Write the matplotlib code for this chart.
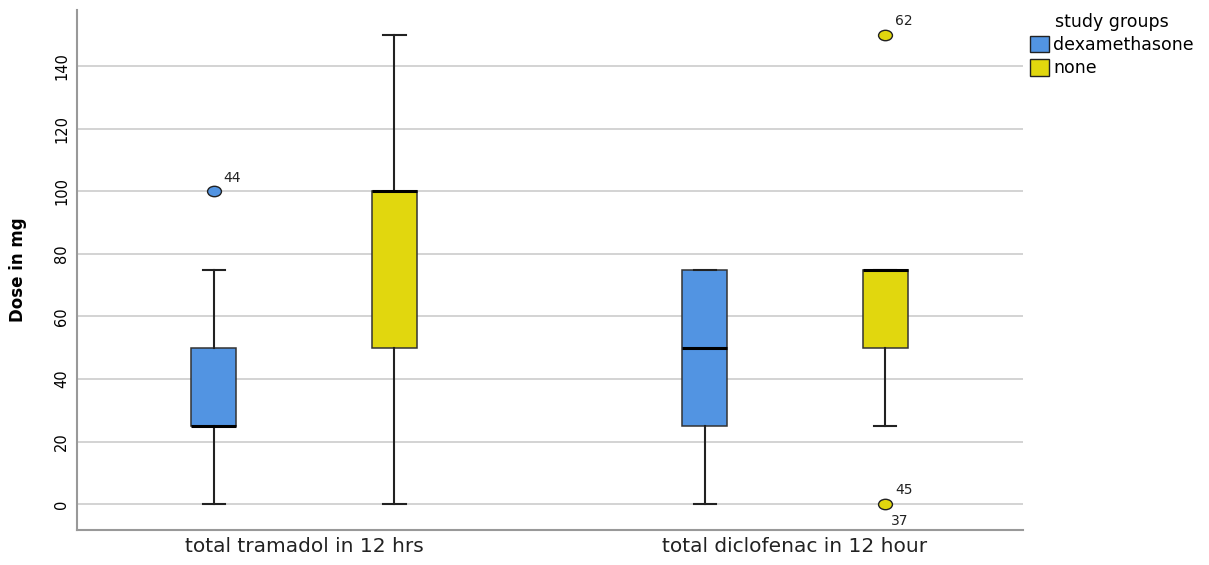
import matplotlib.pyplot as plt
from matplotlib.patches import Patch
from matplotlib.path import Path
from matplotlib.markers import MarkerStyle
from matplotlib.transforms import Affine2D

# summary values (mg)
categories = ['total tramadol in 12 hrs', 'total diclofenac in 12 hour']
groups = ['dexamethasone', 'none']
colors = ['#5294e2', '#e1d70e']

whislo = [[0, 0], [0, 25]]
q1 = [[25, 50], [25, 50]]
med = [[25, 100], [50, 75]]
q3 = [[50, 100], [75, 75]]
whishi = [[75, 150], [75, 75]]
fliers = [[[100], []], [[], [150, 0]]]
flier_ids = [[['44'], []], [[], ['62', '45\n\n37']]]

offsets = [-0.184, 0.184]

# slightly flattened circle, like the SPSS outlier dots
ellipse = Path.unit_circle().transformed(Affine2D().scale(1.0, 0.75))

fig, ax = plt.subplots(figsize=(12.09, 5.65), dpi=100)
fig.subplots_adjust(left=0.064, right=0.846, top=0.982, bottom=0.062)

for c in range(len(categories)):
    for g in range(len(groups)):
        st = [dict(whislo=whislo[c][g], q1=q1[c][g], med=med[c][g], q3=q3[c][g],
                   whishi=whishi[c][g], fliers=fliers[c][g])]
        pos = c + offsets[g]
        ax.bxp(st, positions=[pos], widths=0.092, patch_artist=True,
               showfliers=True, manage_ticks=False,
               boxprops=dict(facecolor=colors[g], edgecolor='#333333', linewidth=1.1),
               medianprops=dict(color='black', linewidth=2.2),
               whiskerprops=dict(color='#222222', linewidth=1.5),
               capprops=dict(color='#222222', linewidth=1.5),
               capwidths=0.045,
               flierprops=dict(marker=MarkerStyle(ellipse), markerfacecolor=colors[g],
                               markeredgecolor='#222222', markersize=10,
                               markeredgewidth=1.0), zorder=3)
        for val, lab in zip(fliers[c][g], flier_ids[c][g]):
            if '\n' in lab:
                top, bot = lab.split('\n\n')
                ax.annotate(top, (pos, val), xytext=(7, 7), textcoords='offset points',
                            fontsize=10, color='#222222')
                ax.annotate(bot, (pos, val), xytext=(4, -15), textcoords='offset points',
                            fontsize=10, color='#222222')
            else:
                ax.annotate(lab, (pos, val), xytext=(7, 7), textcoords='offset points',
                            fontsize=10, color='#222222')

ax.set_xlim(-0.462, 1.464)
ax.set_ylim(-8.3, 158)
ax.set_yticks(range(0, 141, 20))
ax.set_xticks([0, 1])
ax.set_xticklabels(categories, fontsize=14.5, color='#222222')
ax.tick_params(axis='y', labelrotation=90, labelsize=10.5, length=0, pad=6)
ax.tick_params(axis='x', length=0, pad=5)
for lbl in ax.get_yticklabels():
    lbl.set_va('center')
ax.grid(axis='y', color='#cccccc', linewidth=1.2, zorder=0)
ax.set_axisbelow(True)
ax.set_ylabel('Dose in mg', fontsize=12, fontweight='bold')
ax.yaxis.set_label_coords(-0.053, 0.5)

for side in ['top', 'right']:
    ax.spines[side].set_visible(False)
ax.spines['left'].set_color('#999999')
ax.spines['bottom'].set_color('#999999')
ax.spines['left'].set_linewidth(1.5)
ax.spines['bottom'].set_linewidth(1.5)

handles = [Patch(facecolor=colors[i], edgecolor='#222222', label=groups[i])
           for i in range(len(groups))]
fig.legend(handles=handles, title='study groups', loc='upper left',
           bbox_to_anchor=(0.846, 0.99), frameon=False, fontsize=12.5,
           title_fontsize=12.5, handlelength=1.1, handleheight=1.1,
           handletextpad=0.25, labelspacing=0.3, borderaxespad=0)

fig.savefig('out.png', dpi=100)
